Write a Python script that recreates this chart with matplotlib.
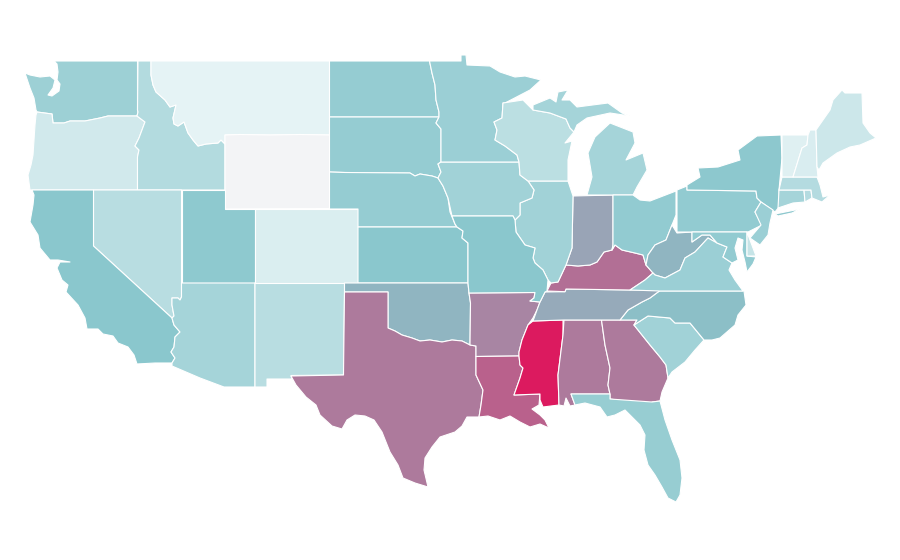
import matplotlib
matplotlib.use("Agg")
import matplotlib.pyplot as plt
from matplotlib.colors import LinearSegmentedColormap, Normalize

# state outlines (x right, y down)
WA = [(54,61),(137.5,61),(137.5,110),(138,112),(137,116),(108,116),(100,118),(85,121),(70,121),(64,123),(53,123),(52,114),(37,112),(36,110),(34,98),(30,88),(25,73),(30,75),(40,77),(50,76),(55,80),(53,88),(48,95),(52,96),(59,91),(60,84),(57,80),(58,72),(57,64)]
OR = [(37,112),(52,114),(53,123),(64,123),(70,121),(85,121),(100,118),(108,116),(137,116),(145,122),(142,130),(139,138),(135,146),(139,150),(137.5,157),(137.5,190),(30,190),(28,175),(31,165),(33,155),(34,140),(35,125),(36,115)]
ID = [(138,61),(151,61),(151,75),(153,85),(156,92),(165,100),(170,107),(176,105),(173,118),(174,124),(178,126),(184,122),(188,133),(193,140),(198,146),(206,144),(218,143),(221,140),(225,144),(225,190),(137.5,190),(137.5,157),(139,150),(135,146),(139,138),(142,130),(145,122),(137,116),(138,112),(137.5,110)]
MT = [(151,61),(329.5,61),(329.5,135),(300,134.5),(270,135),(240,134.5),(225,135),(225,144),(221,140),(218,143),(206,144),(198,146),(193,140),(188,133),(184,122),(178,126),(174,124),(173,118),(176,105),(170,107),(165,100),(156,92),(153,85),(151,75)]
WY = [(225,135),(240,134.5),(270,135),(300,134.5),(329.5,135),(329.5,208.5),(225,209)]
UT = [(181.5,190),(225,190),(225,209),(255,209),(255,283),(181.5,283)]
NV = [(93.5,190),(181.5,190),(181.5,297),(180,300),(178,298),(172,298),(172,305),(174,316),(172,318),(93.5,246)]
CA = [(32,190),(93.5,190),(93.5,246),(172,318),(174,325),(180,332),(175,337),(174,347),(171,352),(175,358),(172,363),(155,363),(137,364),(134,355),(128,347),(118,343),(113,336),(103,334),(98,329),(87,329),(85,318),(78,305),(66,292),(68,285),(62,280),(57,268),(60,262),(70,262),(58,260),(50,260),(40,248),(38,235),(30,222),(33,205),(34,195)]
AZ = [(181.5,283),(255,283),(255,387),(224,387),(200,378),(172,366),(172,363),(175,358),(171,352),(174,347),(175,337),(180,332),(174,325),(172,318),(174,316),(172,305),(172,298),(178,298),(180,300),(181.5,297)]
NM = [(255,283),(344.5,283),(344.5,292),(343.5,375),(291,375.5),(292,379),(267,379),(267,387),(255,387)]
CO = [(255,209),(358,209),(358,283),(255,283)]
ND = [(329.5,61),(429.5,61),(432,73),(435,85),(436,100),(439,112),(439,117),(329.5,117)]
SD = [(329.5,117),(439,117),(436,123),(441,129),(441,162),(438,164),(441,172),(438,178),(432,176),(420,174),(415,176),(410,173),(345,172.5),(329.5,172)]
NE = [(329.5,172),(345,172.5),(410,173),(415,176),(420,174),(432,176),(438,178),(443,186),(448,198),(450,212),(455,224),(457,227),(358,227),(358,209),(329.5,209)]
KS = [(358,227),(457,227),(463,231),(462,238),(468,243),(468,283),(358,283)]
OK = [(344.5,283),(468,283),(469,293),(470.5,303),(470,345),(462,341),(452,340),(442,342),(430,340),(420,341),(412,338),(402,335),(395,331),(388,328),(388,292),(344.5,292)]
TX = [(344.5,292),(388,292),(388,328),(395,331),(402,335),(412,338),(420,341),(430,340),(442,342),(452,340),(462,341),(470,345),(476,346),(476,375),(483,390),(481,405),(479,417),(467,417),(462,426),(455,432),(440,437),(432,447),(425,458),(424,470),(428,487),(415,483),(403,478),(398,465),(390,452),(382,432),(374,420),(365,416),(355,415),(347,420),(342,429),(332,426),(320,415),(316,405),(306,397),(296,385),(291,376),(343.5,375)]
AR = [(469,293),(535,292.5),(534,298),(530,301),(540,302),(537,310),(533,318),(528,325),(522,340),(519,352),(519,356),(476,356.5),(476,346),(470,345),(470.5,303)]
LA = [(476,356.5),(519,356),(520,365),(523,368),(520,378),(514,395),(540,394),(539,405),(532,409),(540,415),(545,420),(549,428),(540,424),(530,427),(520,422),(510,416),(500,420),(488,416),(479,417),(481,405),(483,390),(476,375)]
MS = [(533,321),(563,320),(563,335),(558,375),(559,405),(543,407),(540,400),(540,394),(514,395),(520,378),(523,368),(520,365),(519,356),(519,352),(522,340),(528,325)]
AL = [(564,320),(601.5,320),(605,345),(610,368),(608,385),(610,394),(571,394),(575,405),(570,406),(566,398),(564,406),(559,405),(558,375),(563,335)]
GA = [(601.5,320),(637,320),(634,325),(650,345),(660,357),(666,365),(668,378),(662,392),(660,401),(652,402),(652,405),(610,399),(610,394),(608,385),(610,368),(605,345)]
FL = [(571,394),(610,394),(610,399),(652,402),(660,401),(665,420),(672,440),(680,460),(682,478),(680,495),(676,502),(668,498),(662,487),(655,475),(648,465),(644,450),(645,435),(640,425),(625,410),(615,415),(607,417),(600,407),(585,403),(575,405)]
SC = [(634,325),(648,316),(670,318),(675,323),(690,323),(704,340),(695,350),(685,362),(672,372),(668,378),(666,365),(660,357),(650,345)]
NC = [(620,320),(628,310),(642,302),(650,298),(658,292),(660,291),(744,291),(746,305),(738,315),(735,325),(720,338),(712,340),(704,340),(690,323),(675,323),(670,318),(648,316),(634,325),(637,320)]
TN = [(533,321),(537,310),(540,302),(545,292),(565,291.7),(566,289),(630,290),(660,290.5),(658,292),(650,298),(642,302),(628,310),(620,320),(564,320)]
KY = [(547,291),(551,283),(558,282),(566,265),(578,266),(590,265),(597,262),(604,252),(612,250),(615,245),(622,250),(635,253),(643,255),(646,265),(653,273),(645,280),(630,290),(566,289),(565,291.7)]
IN = [(573,196),(613,195),(613,245),(612,250),(604,252),(597,262),(590,265),(578,266),(566,265),(572,248)]
IL = [(528,181),(568,181),(573,196),(572,248),(566,265),(558,282),(551,283),(548,280),(543,270),(535,263),(533,258),(535,248),(525,245),(516,232),(515,220),(520,215),(520,203),(532,198),(534,190)]
IA = [(441,162),(519,162),(520,175),(528,181),(534,190),(532,198),(520,203),(520,215),(515,220),(513,216),(452,216),(448,198),(443,186),(438,178),(441,172),(438,164)]
MO = [(452,216),(513,216),(515,220),(516,232),(525,245),(535,248),(533,258),(535,263),(543,270),(548,280),(547,291),(545,292),(540,302),(530,301),(534,298),(535,292.5),(469,293),(468,283),(468,243),(462,238),(463,231),(457,227),(455,224)]
MN = [(429.5,61),(461,61),(461,55),(466,55),(467,65),(490,66),(500,72),(515,77),(525,76),(541,80),(530,90),(505,103),(503,103),(502,118),(494,122),(497,130),(495,140),(505,146),(517,155),(519,162),(441,162),(441,129),(436,123),(439,117),(439,112),(436,100),(435,85),(432,73)]
WI = [(503,103),(523,100),(533,110),(550,113),(566,119),(570,128),(574,132),(565,143),(572,141),(568,160),(568,181),(528,181),(520,175),(519,162),(517,155),(505,146),(495,140),(497,130),(494,122),(502,118)]
MI_UP = [(533,110),(533,105),(550,98),(556,102),(558,92),(568,90),(562,100),(570,100),(577,107),(608,103),(622,113),(630,116),(610,113),(587,118),(577,125),(574,132),(570,128),(566,119),(550,113)]
MI_LP = [(610,123),(633,132),(635,143),(626,160),(643,153),(647,170),(637,187),(633,195),(613,195),(587,195),(592,177),(588,153),(595,137)]
OH = [(613,195),(633,195),(640,200),(650,201),(676,191),(676,215),(672,225),(666,240),(655,245),(648,255),(646,265),(643,255),(635,253),(622,250),(615,245),(612,250),(613,245)]
WV = [(646,265),(648,255),(655,245),(666,240),(672,225),(677,233),(692,232),(692,242),(702,235),(710,235),(717,243),(708,238),(695,252),(685,258),(680,270),(665,278),(655,275),(653,273)]
VA = [(630,290),(645,280),(653,273),(655,275),(665,278),(680,270),(685,258),(695,252),(708,238),(717,243),(727,247),(723,257),(732,263),(729,270),(735,280),(743,291),(660,291)]
PA = [(677,190),(687,186),(687,190),(756,191),(757,198),(761,202),(755,212),(762,225),(748,232),(677,232)]
NY = [(687,185),(700,177),(698,168),(718,167),(740,160),(738,150),(757,136),(781,135),(782,158),(779,190),(779,207),(775,212),(761,202),(757,198),(756,191),(687,190)]
LONG_ISLAND = [(775,214),(800,209),(792,213),(778,216)]
NJ = [(761,202),(773,210),(770,223),(768,235),(760,245),(750,238),(761,225),(755,212)]
DE = [(747,232),(750,240),(756,256),(747,256)]
MD = [(692,232),(747,232),(747,256),(756,257),(753,264),(747,272),(745,262),(742,250),(743,240),(738,238),(735,248),(738,260),(732,263),(723,257),(727,247),(717,243),(710,235),(702,235),(692,242)]
CT = [(779,190),(804,190),(805,202),(793,203),(778,208)]
RI = [(804,190),(811,190),(812,198),(805,202)]
MA = [(782,177),(817,177),(820,185),(823,197),(830,195),(822,202),(812,198),(811,190),(779,190)]
VT = [(782,135),(808,135),(807,145),(802,148),(793,177),(782,177),(782,158)]
NH = [(808,135),(810,130),(816,130),(817,167),(818,177),(793,177),(802,148),(807,145)]
ME = [(816,130),(830,110),(833,100),(842,90),(845,93),(862,93),(863,123),(870,133),(876,138),(860,145),(850,147),(837,153),(823,163),(819,170),(817,167)]

# states in draw order, with the values they are shaded by
state_shapes = [WA, OR, ID, MT, WY, UT, NV, CA, AZ, NM, CO, ND, SD, NE, KS, OK, TX, AR, LA, MS, AL, GA, FL,
                SC, NC, TN, KY, IN, IL, IA, MO, MN, WI, MI_UP, MI_LP, OH, WV, VA, PA, NY, LONG_ISLAND, NJ, MD, DE,
                CT, RI, MA, VT, NH, ME]
state_values = [40, 16, 30, 6, 0, 47, 27, 49, 36, 27, 11, 44, 44, 44, 49, 55, 72, 69, 79, 100, 72, 72, 43,
                38, 52, 58, 75, 60, 38, 38, 49, 41, 26, 36, 36, 45, 55, 41, 45, 48, 48, 41, 45, 21,
                36, 29, 29, 9, 12, 18]

cmap = LinearSegmentedColormap.from_list(
    "teal_crimson", [(0.0, "#f3f4f6"), (0.06, "#e5f3f5"), (0.5, "#88c6cc"), (1.0, "#dc1a5f")])
norm = Normalize(vmin=0, vmax=100)

fig = plt.figure(figsize=(9, 5.6), dpi=100)
ax = fig.add_axes([0, 0, 1, 1])

for shape, value in zip(state_shapes, state_values):
    xs, ys = zip(*shape)
    ax.fill(xs, ys, facecolor=cmap(norm(value)), edgecolor="white", linewidth=0.8, joinstyle="round")

ax.set_xlim(0, 900)
ax.set_ylim(560, 0)
ax.axis("off")

fig.savefig("out.png", dpi=100, facecolor="white")
